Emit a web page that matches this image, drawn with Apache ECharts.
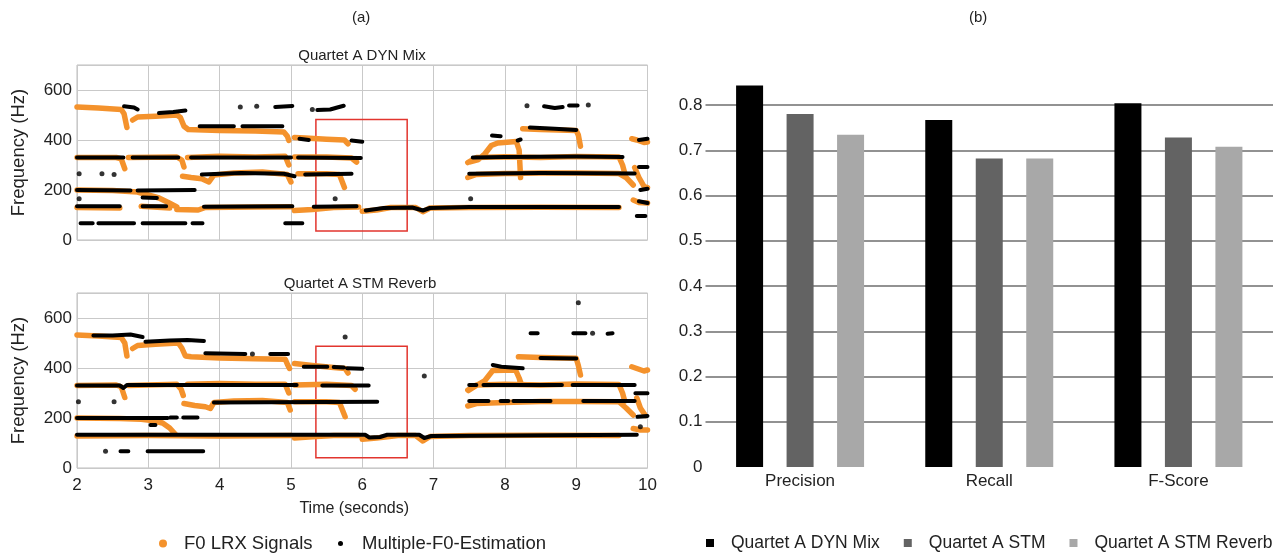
<!DOCTYPE html>
<html><head><meta charset="utf-8">
<script src="https://cdn.jsdelivr.net/npm/echarts@6/dist/echarts.min.js"></script>
<style>html,body{margin:0;padding:0;background:#fff}#c{width:1282px;height:554px}</style>
</head><body><div id="c"></div>
<script>
// ---------- Panel (a): pitch tracks, values as [time (s), frequency (Hz)] ----------
const timeTicks = [2, 3, 4, 5, 6, 7, 8, 9, 10];
const freqTicks = [0, 200, 400, 600];

// Quartet A DYN Mix - F0 LRX signals (orange)
const orangeDyn = [
  [[2.0,532],[2.3,528],[2.62,522],[2.66,505],[2.7,450]],
  [[2.78,480],[2.85,492],[3.1,495],[3.4,500],[3.45,490],[3.5,455],[3.56,442],[4.0,438],[4.5,436],[4.9,432],[4.95,415],[4.97,398]],
  [[5.05,410],[5.2,408],[5.5,403],[5.75,400],[5.8,385]],
  [[2.0,330],[2.55,330],[2.62,325],[2.67,285]],
  [[2.72,330],[3.4,332],[3.47,320],[3.5,292]],
  [[3.55,330],[4.0,335],[4.5,332],[4.92,335],[4.97,300]],
  [[5.05,332],[5.5,332],[5.85,328],[5.92,312]],
  [[3.48,255],[3.6,250],[3.75,245],[3.85,232],[3.92,260],[4.2,268],[4.6,272],[4.95,262],[5.0,232]],
  [[5.1,265],[5.5,265],[5.68,262],[5.75,210]],
  [[2.0,200],[2.5,198],[2.85,192],[3.0,180],[3.15,168],[3.28,150],[3.4,132]],
  [[2.0,130],[2.6,128]],
  [[2.9,135],[3.3,128]],
  [[3.4,122],[3.7,120],[3.8,130],[4.5,132],[5.0,133]],
  [[5.05,118],[5.3,122],[5.6,130],[5.95,132]],
  [[6.0,115],[6.2,120],[6.4,130],[6.75,130],[6.85,113],[6.95,128],[7.5,130],[8.5,131],[9.6,130]],
  [[7.5,312],[7.63,322],[7.72,345],[7.81,378],[7.9,388],[8.16,394],[8.2,360],[8.22,250]],
  [[7.48,310],[7.6,330],[8.0,333],[8.5,330],[9.0,334],[9.6,332],[9.65,300],[9.68,268]],
  [[7.48,250],[7.6,262],[8.0,266],[8.5,268],[9.0,268],[9.6,266],[9.7,250],[9.8,220]],
  [[8.25,445],[8.5,442],[9.0,438],[9.03,420],[9.06,375]],
  [[9.78,405],[9.85,400],[9.95,390],[10,392]],
  [[9.82,290],[9.88,250],[9.95,215],[10,210]],
  [[9.8,160],[9.88,150],[10,148]]
];
// Quartet A DYN Mix - Multiple-F0-Estimation (black tracks)
const blackDyn = [
  [[2.66,535],[2.8,530],[2.85,522]],
  [[3.15,508],[3.35,512],[3.52,518]],
  [[4.78,532],[5.02,536]],
  [[5.37,520],[5.55,522],[5.65,530],[5.74,537]],
  [[3.72,455],[4.2,455]],
  [[4.32,455],[4.88,455]],
  [[5.12,405],[5.25,400]],
  [[5.85,398],[6.0,393]],
  [[2.0,330],[2.65,330]],
  [[2.78,330],[3.42,330]],
  [[3.6,330],[5.0,330]],
  [[5.1,330],[5.98,328]],
  [[3.75,262],[4.3,268],[4.9,265],[5.05,255]],
  [[5.2,262],[5.85,265]],
  [[2.0,200],[2.75,198]],
  [[2.85,198],[3.65,200]],
  [[2.92,170],[3.12,168]],
  [[2.0,135],[2.6,135]],
  [[2.92,135],[3.25,135]],
  [[3.78,133],[5.02,135]],
  [[5.32,133],[5.92,135]],
  [[6.05,118],[6.3,128],[6.7,130],[6.85,118],[6.95,128],[7.5,132],[9.6,132]],
  [[2.05,67],[2.22,67]],
  [[2.3,67],[2.8,67]],
  [[2.92,67],[3.52,67]],
  [[3.62,67],[3.76,67]],
  [[4.92,67],[5.16,67]],
  [[7.55,330],[8.0,332],[9.0,334],[9.65,332]],
  [[7.5,265],[8.5,268],[9.82,266]],
  [[8.35,450],[8.7,445],[9.0,440]],
  [[8.55,535],[8.7,528],[8.81,532]],
  [[8.9,538],[9.02,538]],
  [[7.82,418],[7.94,415]],
  [[8.18,398],[8.22,402]],
  [[9.88,400],[10,405]],
  [[9.88,292],[10,292]],
  [[9.9,200],[10,205]],
  [[9.88,155],[10,148]],
  [[9.85,96],[9.97,96]]
];
const blackDotsDyn = [[2.03,265],[2.35,265],[2.52,262],[2.03,165],[4.29,532],[4.52,535],[5.3,522],[5.62,165],[7.52,165],[8.31,537],[9.17,540]];
const boxDyn = [[5.35,482],[6.63,36]];

// Quartet A STM Reverb - F0 LRX signals (orange)
const orangeRev = [
  [[2.0,532],[2.3,528],[2.62,522],[2.67,500],[2.7,448]],
  [[2.78,478],[2.85,490],[3.1,495],[3.42,500],[3.47,480],[3.52,448],[3.6,445],[4.0,440],[4.5,437],[4.92,435],[4.95,415],[4.98,398]],
  [[5.05,418],[5.3,410],[5.6,402],[5.76,398],[5.8,380]],
  [[2.0,330],[2.55,332],[2.62,325],[2.67,282]],
  [[2.72,330],[3.4,335],[3.46,315],[3.49,290]],
  [[3.55,335],[4.0,338],[4.5,335],[4.92,335],[4.97,300]],
  [[5.05,332],[5.5,335],[5.85,330],[5.9,315]],
  [[3.5,258],[3.65,250],[3.8,245],[3.87,238],[3.92,262],[4.2,268],[4.6,270],[4.95,262],[4.99,232]],
  [[5.05,265],[5.5,265],[5.68,262],[5.76,205]],
  [[2.0,200],[2.6,198],[2.9,195],[3.05,190],[3.2,180],[3.3,160],[3.38,135]],
  [[2.0,128],[3.0,130],[4.0,128],[5.0,130]],
  [[5.05,120],[5.3,125],[5.6,130],[5.95,130]],
  [[6.0,115],[6.2,120],[6.5,130],[6.75,130],[6.85,108],[6.95,126],[7.5,130],[8.5,131],[9.6,130]],
  [[7.49,310],[7.6,330],[7.72,350],[7.83,390],[8.15,392],[8.2,360],[8.23,335]],
  [[7.48,312],[7.6,332],[8.0,335],[8.5,332],[9.0,336],[9.6,334],[9.65,300],[9.68,268]],
  [[7.48,248],[7.6,258],[8.0,262],[8.5,266],[9.0,266],[9.6,265],[9.7,240],[9.8,212]],
  [[8.19,445],[8.5,442],[9.0,439],[9.03,410],[9.06,372]],
  [[9.78,405],[9.85,398],[9.95,388],[10,392]],
  [[9.85,280],[9.9,240],[9.97,210]],
  [[9.8,158],[9.9,152],[10,152]]
];
// Quartet A STM Reverb - Multiple-F0-Estimation (black tracks)
const blackRev = [
  [[2.23,530],[2.5,530],[2.75,534],[2.92,524]],
  [[2.96,505],[3.3,510],[3.55,512],[3.78,508]],
  [[3.8,459],[4.36,456]],
  [[4.71,456],[4.96,456]],
  [[5.18,405],[5.51,405]],
  [[5.6,404],[5.74,402]],
  [[5.79,399],[6.0,397]],
  [[2.0,330],[2.6,330],[2.65,320],[2.7,332],[5.08,332]],
  [[5.44,330],[6.09,330]],
  [[3.92,262],[6.21,265]],
  [[2.0,200],[3.27,200]],
  [[3.31,202],[3.4,202]],
  [[3.49,202],[3.69,202]],
  [[3.03,172],[3.1,172]],
  [[2.0,133],[6.04,133],[6.1,122],[6.25,124],[6.35,133],[6.8,133],[6.87,120],[6.97,128],[9.85,133]],
  [[2.61,67],[2.72,67]],
  [[2.99,67],[3.77,67]],
  [[7.5,268],[7.77,268]],
  [[7.94,268],[8.05,268]],
  [[8.12,268],[8.64,268]],
  [[9.1,268],[9.82,268]],
  [[7.5,332],[7.6,332]],
  [[7.7,332],[8.8,332]],
  [[8.95,332],[9.82,332]],
  [[7.83,412],[7.95,405],[8.25,399]],
  [[8.5,440],[9.0,438]],
  [[8.36,539],[8.46,539]],
  [[8.96,539],[9.13,539]],
  [[9.44,537],[9.51,539]],
  [[9.83,299],[10,299]],
  [[9.86,205],[10,208]]
];
const blackDotsRev = [[2.02,265],[2.52,265],[2.4,67],[5.76,524],[6.87,368],[9.03,661],[9.23,539],[9.9,165],[4.46,456]];
const boxRev = [[5.35,487],[6.63,41]];

// ---------- Panel (b): bar chart ----------
const metrics = ['Precision', 'Recall', 'F-Score'];
const dynMix = [0.843, 0.767, 0.804];
const stm = [0.780, 0.682, 0.728];
const stmReverb = [0.734, 0.682, 0.708];
const scoreTicks = [0, 0.1, 0.2, 0.3, 0.4, 0.5, 0.6, 0.7, 0.8];

const ORANGE = '#F4922C';
const FONT = 'Liberation Sans';

function toLine(segs) {
  const out = [];
  segs.forEach(s => {
    s.forEach(p => out.push([p[0], p[1]]));
    out.push([s[s.length - 1][0], null]);
  });
  return out;
}

function trackSeries(idx, orange, black, dots, box) {
  return [
    {
      type: 'line', name: 'F0 LRX Signals', xAxisIndex: idx, yAxisIndex: idx,
      data: toLine(orange), showSymbol: false, connectNulls: false, silent: true, z: 2,
      itemStyle: { color: ORANGE },
      lineStyle: { color: ORANGE, width: 5.5, cap: 'round', join: 'round' },
      markArea: {
        silent: true,
        itemStyle: { color: 'rgba(0,0,0,0)', borderColor: '#E2352E', borderWidth: 1.5 },
        data: [[{ coord: box[0] }, { coord: box[1] }]]
      }
    },
    {
      type: 'line', name: 'Multiple-F0-Estimation', xAxisIndex: idx, yAxisIndex: idx,
      data: toLine(black), showSymbol: false, connectNulls: false, silent: true, z: 3,
      itemStyle: { color: '#000' },
      lineStyle: { color: '#000', width: 4, cap: 'round', join: 'round' }
    },
    {
      type: 'scatter', name: 'Multiple-F0-Estimation', xAxisIndex: idx, yAxisIndex: idx,
      data: dots, symbolSize: 5, silent: true, z: 3, itemStyle: { color: '#000' }
    }
  ];
}

function timeAxis(idx, showLabels) {
  return {
    type: 'value', gridIndex: idx, min: timeTicks[0], max: timeTicks[timeTicks.length - 1], interval: 1,
    axisLine: { show: false }, axisTick: { show: false },
    axisLabel: { show: showLabels, fontSize: 17, color: '#222', margin: 9, fontFamily: FONT },
    splitLine: { show: true, lineStyle: { color: '#C9C9C9', width: 1 } },
    name: showLabels ? 'Time (seconds)' : '', nameLocation: 'middle', nameGap: 33,
    nameTextStyle: { fontSize: 16, color: '#222', fontFamily: FONT, padding: [0, 16, 0, 0] }
  };
}
function freqAxis(idx) {
  return {
    type: 'value', gridIndex: idx, min: freqTicks[0], max: 700, interval: 200,
    axisLine: { show: false }, axisTick: { show: false },
    axisLabel: { fontSize: 17, color: '#222', margin: 5, showMaxLabel: false, fontFamily: FONT },
    splitLine: { show: true, lineStyle: { color: '#C9C9C9', width: 1 } },
    name: 'Frequency (Hz)', nameLocation: 'middle', nameGap: 49, nameRotate: 90,
    nameTextStyle: { fontSize: 18.5, color: '#222', fontFamily: FONT }
  };
}

const chart = echarts.init(document.getElementById('c'), null, { renderer: 'canvas' });
const gridLine = ['rgba(0,0,0,0)'].concat(scoreTicks.slice(1).map(() => '#6E6E6E'));

chart.setOption({
  animation: false,
  textStyle: { fontFamily: FONT },
  graphic: [
    { type: 'text', left: 352, top: 10, style: { text: '(a)', fontSize: 15, fill: '#222', fontFamily: FONT } },
    { type: 'text', left: 969, top: 10, style: { text: '(b)', fontSize: 15, fill: '#222', fontFamily: FONT } },
    { type: 'text', x: 362, y: 56, style: { text: 'Quartet A DYN Mix', fontSize: 15, fill: '#222', align: 'center', verticalAlign: 'middle', fontFamily: FONT } },
    { type: 'text', x: 360, y: 284, style: { text: 'Quartet A STM Reverb', fontSize: 15, fill: '#222', align: 'center', verticalAlign: 'middle', fontFamily: FONT } }
  ],
  legend: [
    { data: [{ name: 'F0 LRX Signals', icon: 'circle' }], left: 159, top: 534, padding: 0,
      itemWidth: 8, itemHeight: 8, selectedMode: false,
      textStyle: { fontSize: 18.5, color: '#222', padding: [0, 0, 0, 12], fontFamily: FONT } },
    { data: [{ name: 'Multiple-F0-Estimation', icon: 'circle' }], left: 338, top: 534, padding: 0,
      itemWidth: 5, itemHeight: 5, selectedMode: false,
      textStyle: { fontSize: 18.5, color: '#222', padding: [0, 0, 0, 14], fontFamily: FONT } },
    { data: [{ name: 'Quartet A DYN Mix', icon: 'rect' }, { name: 'Quartet A STM', icon: 'rect' }, { name: 'Quartet A STM Reverb', icon: 'rect' }],
      left: 706, top: 534, padding: 0, itemWidth: 8, itemHeight: 8, itemGap: 24, selectedMode: false,
      textStyle: { fontSize: 17.5, color: '#222', padding: [0, 0, 0, 12], fontFamily: FONT } }
  ],
  grid: [
    { left: 77, top: 65, width: 570.5, height: 175, show: true, borderColor: '#BDBDBD', borderWidth: 1, backgroundColor: 'rgba(0,0,0,0)' },
    { left: 77, top: 293, width: 570.5, height: 175, show: true, borderColor: '#BDBDBD', borderWidth: 1, backgroundColor: 'rgba(0,0,0,0)' },
    { left: 705.5, top: 105, width: 567.5, height: 362 }
  ],
  xAxis: [
    timeAxis(0, false),
    timeAxis(1, true),
    { type: 'category', gridIndex: 2, data: metrics,
      axisLine: { show: false }, axisTick: { show: false },
      axisLabel: { fontSize: 17, color: '#222', margin: 6, fontFamily: FONT } }
  ],
  yAxis: [
    freqAxis(0),
    freqAxis(1),
    { type: 'value', gridIndex: 2, min: scoreTicks[0], max: scoreTicks[scoreTicks.length - 1], interval: 0.1,
      axisLine: { show: false }, axisTick: { show: false },
      axisLabel: { fontSize: 17, color: '#222', margin: 3, fontFamily: FONT,
        formatter: v => (v === 0 ? '0' : v.toFixed(1)) },
      splitLine: { show: true, lineStyle: { color: gridLine, width: 1.5 } } }
  ],
  series: [
    ...trackSeries(0, orangeDyn, blackDyn, blackDotsDyn, boxDyn),
    ...trackSeries(1, orangeRev, blackRev, blackDotsRev, boxRev),
    { type: 'bar', name: 'Quartet A DYN Mix', xAxisIndex: 2, yAxisIndex: 2, data: dynMix,
      barWidth: 27, barGap: '87%', clip: false, itemStyle: { color: '#000000' } },
    { type: 'bar', name: 'Quartet A STM', xAxisIndex: 2, yAxisIndex: 2, data: stm,
      barWidth: 27, barGap: '87%', clip: false, itemStyle: { color: '#636363' } },
    { type: 'bar', name: 'Quartet A STM Reverb', xAxisIndex: 2, yAxisIndex: 2, data: stmReverb,
      barWidth: 27, barGap: '87%', clip: false, itemStyle: { color: '#A8A8A8' } }
  ]
});
</script>
</body></html>
